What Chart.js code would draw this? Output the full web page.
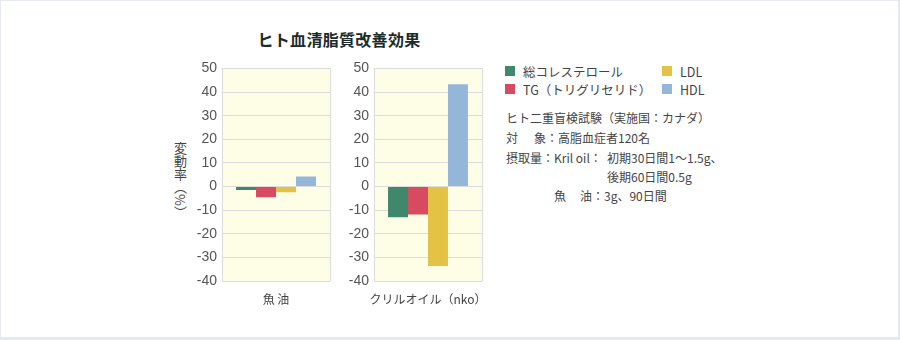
<!DOCTYPE html>
<html lang="ja">
<head>
<meta charset="utf-8">
<script src="https://cdn.jsdelivr.net/npm/chart.js@4.4.1/dist/chart.umd.min.js"></script>
<style>
  html, body { margin: 0; padding: 0; background: #e6eaee; }
  #frame {
    position: absolute; left: 1px; top: 1px; width: 897px; height: 336px;
    background: #fff; overflow: hidden;
    font-family: "Liberation Sans", "Noto Sans CJK JP", sans-serif; color: #444;
  }
  canvas { position: absolute; }
  #title {
    position: absolute; left: 238px; top: 26px; width: 200px; text-align: center;
    font: bold 16px "Noto Sans CJK JP", sans-serif; color: #1c2b2b; letter-spacing: 0.3px;
  }
  #yTitle {
    position: absolute; left: 170px; top: 141px; writing-mode: vertical-rl;
    font: 13px "Noto Sans CJK JP", sans-serif; color: #444; line-height: 18px;
  }
  #legend { position: absolute; left: 504px; top: 62px; width: 250px; }
  .lg { position: absolute; font: 12.5px "Noto Sans CJK JP", sans-serif; color: #444; white-space: nowrap; }
  .lg i { position: absolute; left: 0; top: 3px; width: 10px; height: 10px; }
  .lg span { position: absolute; left: 18px; top: -1px; }
  #notes { position: absolute; left: 505px; top: 108px; font: 12px "Noto Sans CJK JP", sans-serif; color: #444; }
  .ln { position: absolute; white-space: nowrap; }
</style>
</head>
<body>
<div id="frame">
  <div id="title">ヒト血清脂質改善効果</div>
  <div id="yTitle">変動率（%）</div>
  <canvas id="fishChart" width="145" height="266" style="left:188px; top:54px;"></canvas>
  <canvas id="krillChart" width="145" height="266" style="left:340px; top:54px;"></canvas>
  <div id="legend"></div>
  <div id="notes">
    <div class="ln" style="left:0; top:0;">ヒト二重盲検試験（実施国：カナダ）</div>
    <div class="ln" style="left:0; top:20px;">対</div>
    <div class="ln" style="left:28px; top:20px;">象：高脂血症者120名</div>
    <div class="ln" style="left:0; top:40px;">摂取量：Kril oil：</div>
    <div class="ln" style="left:101px; top:40px;">初期30日間1〜1.5g、</div>
    <div class="ln" style="left:101px; top:59px;">後期60日間0.5g</div>
    <div class="ln" style="left:48px; top:78px;">魚</div>
    <div class="ln" style="left:74px; top:78px;">油：3g、90日間</div>
  </div>
</div>
<script>
// data
const groups = ['魚 油', 'クリルオイル（nko）'];
const seriesNames = ['総コレステロール', 'TG（トリグリセリド）', 'LDL', 'HDL'];
const fishOilValues = [-1.5, -4.5, -2.4, 4.2];
const krillOilValues = [-13.0, -11.8, -33.6, 43.3];
const yMin = -40;
const yMax = 50;
const yStep = 10;

const seriesColors = ['#3f886b', '#d84a5f', '#e4c244', '#94b6d9'];

// light yellow plot background
const plotBg = {
  id: 'plotBg',
  beforeDraw(chart) {
    const a = chart.chartArea;
    const ctx = chart.ctx;
    ctx.save();
    ctx.fillStyle = '#fefee7';
    ctx.fillRect(a.left, a.top, a.right - a.left, a.bottom - a.top);
    ctx.restore();
  }
};

function makeChart(canvasId, label, values) {
  const ctx = document.getElementById(canvasId).getContext('2d');
  return new Chart(ctx, {
    type: 'bar',
    data: {
      labels: [label],
      datasets: seriesNames.map((name, i) => ({
        label: name,
        data: [values[i]],
        backgroundColor: seriesColors[i],
        borderWidth: 0,
        barPercentage: 1.0,
        categoryPercentage: 0.74,
      })),
    },
    options: {
      responsive: false,
      animation: false,
      devicePixelRatio: 1,
      layout: { padding: { top: 13, right: 4, left: 0, bottom: 0 } },
      plugins: { legend: { display: false }, tooltip: { enabled: false } },
      scales: {
        x: {
          offset: true,
          grid: { display: true, offset: true, color: '#dcdcdc', drawTicks: false },
          border: { display: false },
          ticks: {
            color: '#444', padding: 11, maxRotation: 0, autoSkip: false,
            font: { family: '"Noto Sans CJK JP", sans-serif', size: 12 },
          },
          // wide category label must not shrink the plot
          afterFit: (scale) => {
            scale.height = 40;
            scale.paddingLeft = 0;
            scale.paddingRight = 0;
          },
        },
        y: {
          min: yMin,
          max: yMax,
          grid: { color: '#dcdcdc', drawTicks: false },
          border: { display: true, color: '#dcdcdc' },
          ticks: {
            stepSize: yStep, color: '#555', padding: 5,
            font: { family: '"Liberation Sans", Arial, sans-serif', size: 14 },
          },
          afterFit: (scale) => { scale.width = 33; },
        },
      },
    },
    plugins: [plotBg],
  });
}

makeChart('fishChart', groups[0], fishOilValues);
makeChart('krillChart', groups[1], krillOilValues);

// legend in two columns
const legendPos = [[0, 0], [0, 18], [157, 0], [157, 18]];
const legendEl = document.getElementById('legend');
seriesNames.forEach((name, i) => {
  const item = document.createElement('div');
  item.className = 'lg';
  item.style.left = legendPos[i][0] + 'px';
  item.style.top = legendPos[i][1] + 'px';
  const sw = document.createElement('i');
  sw.style.background = seriesColors[i];
  const txt = document.createElement('span');
  txt.textContent = name;
  item.appendChild(sw);
  item.appendChild(txt);
  legendEl.appendChild(item);
});
</script>
</body>
</html>
